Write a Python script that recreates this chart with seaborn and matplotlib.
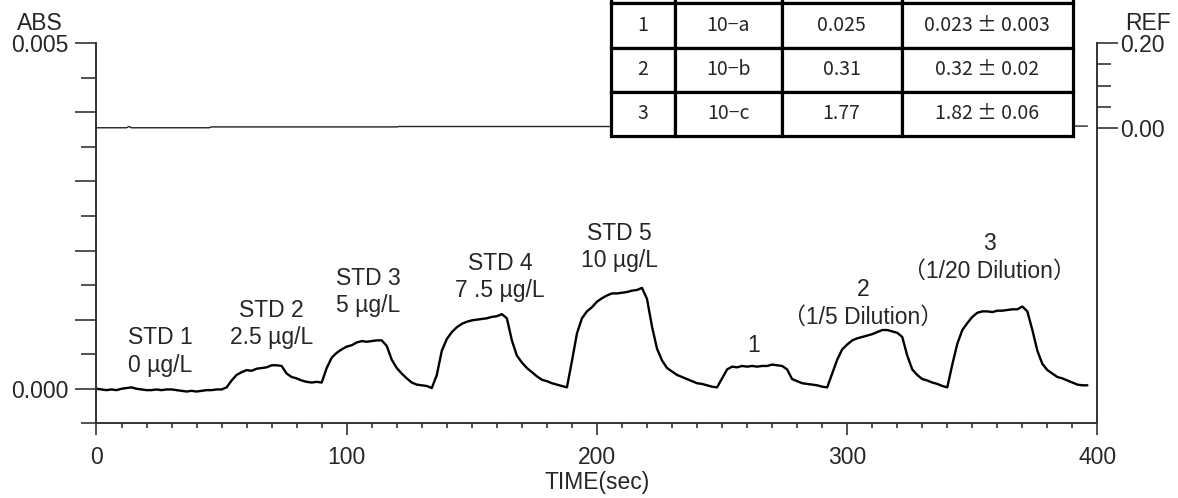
import numpy as np
import pandas as pd
import matplotlib
matplotlib.use("Agg")
import matplotlib.pyplot as plt
import matplotlib.ticker as ticker
import seaborn as sns

# ABS trace, one reading every 2 s, in units of 0.001 ABS
abs_mabs = [
    0.00, -0.01, -0.02, -0.01, -0.02, 0.00, 0.01, 0.02, 0.00, -0.01,
    -0.02, -0.02, -0.01, -0.02, -0.01, -0.01, -0.02, -0.03, -0.04, -0.03,
    -0.04, -0.03, -0.02, -0.02, -0.01, -0.01, 0.02, 0.12, 0.20, 0.24,
    0.27, 0.26, 0.29, 0.30, 0.31, 0.34, 0.34, 0.33, 0.22, 0.17,
    0.15, 0.12, 0.10, 0.09, 0.10, 0.09, 0.30, 0.45, 0.52, 0.57,
    0.61, 0.63, 0.67, 0.69, 0.68, 0.69, 0.70, 0.70, 0.62, 0.42,
    0.30, 0.22, 0.15, 0.09, 0.06, 0.05, 0.04, 0.01, 0.20, 0.55,
    0.72, 0.82, 0.89, 0.94, 0.97, 0.99, 1.00, 1.01, 1.02, 1.04,
    1.05, 1.08, 1.02, 0.70, 0.48, 0.38, 0.30, 0.24, 0.18, 0.13,
    0.11, 0.08, 0.06, 0.04, 0.02, 0.40, 0.80, 1.02, 1.12, 1.18,
    1.26, 1.31, 1.35, 1.38, 1.38, 1.39, 1.40, 1.42, 1.43, 1.46,
    1.30, 0.90, 0.58, 0.41, 0.30, 0.25, 0.20, 0.17, 0.14, 0.11,
    0.08, 0.07, 0.05, 0.03, 0.02, 0.15, 0.28, 0.32, 0.31, 0.33,
    0.32, 0.33, 0.32, 0.33, 0.33, 0.35, 0.34, 0.33, 0.28, 0.14,
    0.11, 0.08, 0.07, 0.06, 0.05, 0.03, 0.02, 0.22, 0.42, 0.57,
    0.64, 0.70, 0.73, 0.75, 0.77, 0.79, 0.82, 0.85, 0.85, 0.83,
    0.81, 0.75, 0.48, 0.28, 0.20, 0.14, 0.12, 0.09, 0.07, 0.04,
    0.02, 0.35, 0.65, 0.85, 0.95, 1.04, 1.10, 1.12, 1.12, 1.11,
    1.13, 1.13, 1.14, 1.15, 1.15, 1.19, 1.12, 0.85, 0.55, 0.36,
    0.27, 0.22, 0.17, 0.15, 0.12, 0.09, 0.06, 0.05, 0.05,
]
abs_time = np.arange(len(abs_mabs)) * 2

# REF trace (right axis)
ref_time = [0, 12, 13, 14, 45, 46, 120, 121, 250, 251, 396]
ref_vals = [0.000, 0.000, 0.003, 0.000, 0.000, 0.002, 0.002, 0.003, 0.003, 0.004, 0.004]

# peak labels
peak_labels = ["STD 1\n0 µg/L", "STD 2\n2.5 µg/L", "STD 3\n5 µg/L", "STD 4\n7 .5 µg/L",
               "STD 5\n10 µg/L", "1", "2\n（1/5 Dilution）", "3\n（1/20 Dilution）"]

# results table
table_no = ["1", "2", "3"]
table_sample = ["10−a", "10−b", "10−c"]
table_found = ["0.025", "0.31", "1.77"]
table_certified = ["0.023 ± 0.003", "0.32 ± 0.02", "1.82 ± 0.06"]

df = pd.DataFrame({"time": abs_time, "abs": np.array(abs_mabs) / 1000})
ref = pd.DataFrame({"time": ref_time, "ref": ref_vals})

sns.set_style("ticks")
plt.rcParams["font.family"] = ["Liberation Sans", "Noto Sans CJK JP"]

axcol = "#333333"
fs = 16.5
fig = plt.figure(figsize=(11.78, 4.98), dpi=100)
ax = fig.add_axes([0.0819, 0.15, 0.8497, 0.763])

sns.lineplot(data=df, x="time", y="abs", ax=ax, color="black", lw=1.7, sort=False)
ax.set_xlim(0, 400)
ax.set_ylim(-0.0005, 0.005)
ax.set_xticks([0, 100, 200, 300, 400])
ax.xaxis.set_minor_locator(ticker.MultipleLocator(10))
ax.set_yticks([0, 0.001, 0.002, 0.003, 0.004, 0.005])
ax.set_yticklabels(["0.000", "", "", "", "", "0.005"])
ax.yaxis.set_minor_locator(ticker.FixedLocator([-0.0005, 0.0005, 0.0015, 0.0025, 0.0035, 0.0045]))
ax.tick_params(axis="y", which="major", length=15, width=1.2, color=axcol, pad=5, labelsize=fs)
ax.tick_params(axis="y", which="minor", length=10.8, width=1.2, color=axcol)
ax.tick_params(axis="x", which="major", length=8.6, width=1.2, color=axcol, pad=8, labelsize=fs)
ax.tick_params(axis="x", which="minor", length=3.6, width=1.2, color=axcol)
ax.set_xlabel("TIME(sec)", fontsize=fs, labelpad=1)
ax.set_ylabel("")
for s in ["top", "right"]:
    ax.spines[s].set_visible(False)
for s in ["left", "bottom"]:
    ax.spines[s].set_color(axcol)
    ax.spines[s].set_linewidth(1.4)

ax2 = ax.twinx()
sns.lineplot(data=ref, x="time", y="ref", ax=ax2, color="#222222", lw=1.0, sort=False)
ax2.set_ylim(-0.7, 0.2)
ax2.set_yticks([0.0, 0.2])
ax2.set_yticklabels(["0.00", "0.20"])
ax2.yaxis.set_minor_locator(ticker.FixedLocator([0.05, 0.10, 0.15]))
ax2.tick_params(axis="y", which="major", length=15, width=1.2, color=axcol, pad=1.5, labelsize=fs)
ax2.tick_params(axis="y", which="minor", length=10, width=1.2, color=axcol)
ax2.set_ylabel("")
for s in ["top", "left", "bottom"]:
    ax2.spines[s].set_visible(False)
ax2.spines["right"].set_color(axcol)
ax2.spines["right"].set_linewidth(1.4)

fig.text(40 / 1178, 1 - 23 / 498, "ABS", fontsize=fs, ha="center", va="center")
fig.text(1148 / 1178, 1 - 23 / 498, "REF", fontsize=fs, ha="center", va="center")

label_pos = [(25.5, 0.00054), (70, 0.00094), (108.5, 0.0014), (161.2, 0.00162),
             (209, 0.00205), (262.7, 0.00063), (306.3, 0.00124), (357, 0.0019)]
for txt, (x, y) in zip(peak_labels, label_pos):
    ax.text(x, y, txt, ha="center", va="center", multialignment="center",
            fontsize=fs, linespacing=1.25)

cells = [["", "", "", ""]] + [list(r) for r in zip(table_no, table_sample, table_found, table_certified)]
tab = ax2.table(cellText=cells, cellLoc="center",
                colWidths=[0.139, 0.231, 0.26, 0.371],
                bbox=[0.5137, 0.756, 0.4618, 0.4658])
tab.auto_set_font_size(False)
tab.set_fontsize(14)
tab.set_zorder(5)
tab.set_clip_on(False)
for cell in tab.get_celld().values():
    cell.set_linewidth(2.3)
    cell.set_edgecolor("black")
    cell.set_facecolor("white")
    cell.get_text().set_fontfamily(["Noto Sans CJK JP", "DejaVu Sans"])

fig.savefig("out.png", dpi=100)
